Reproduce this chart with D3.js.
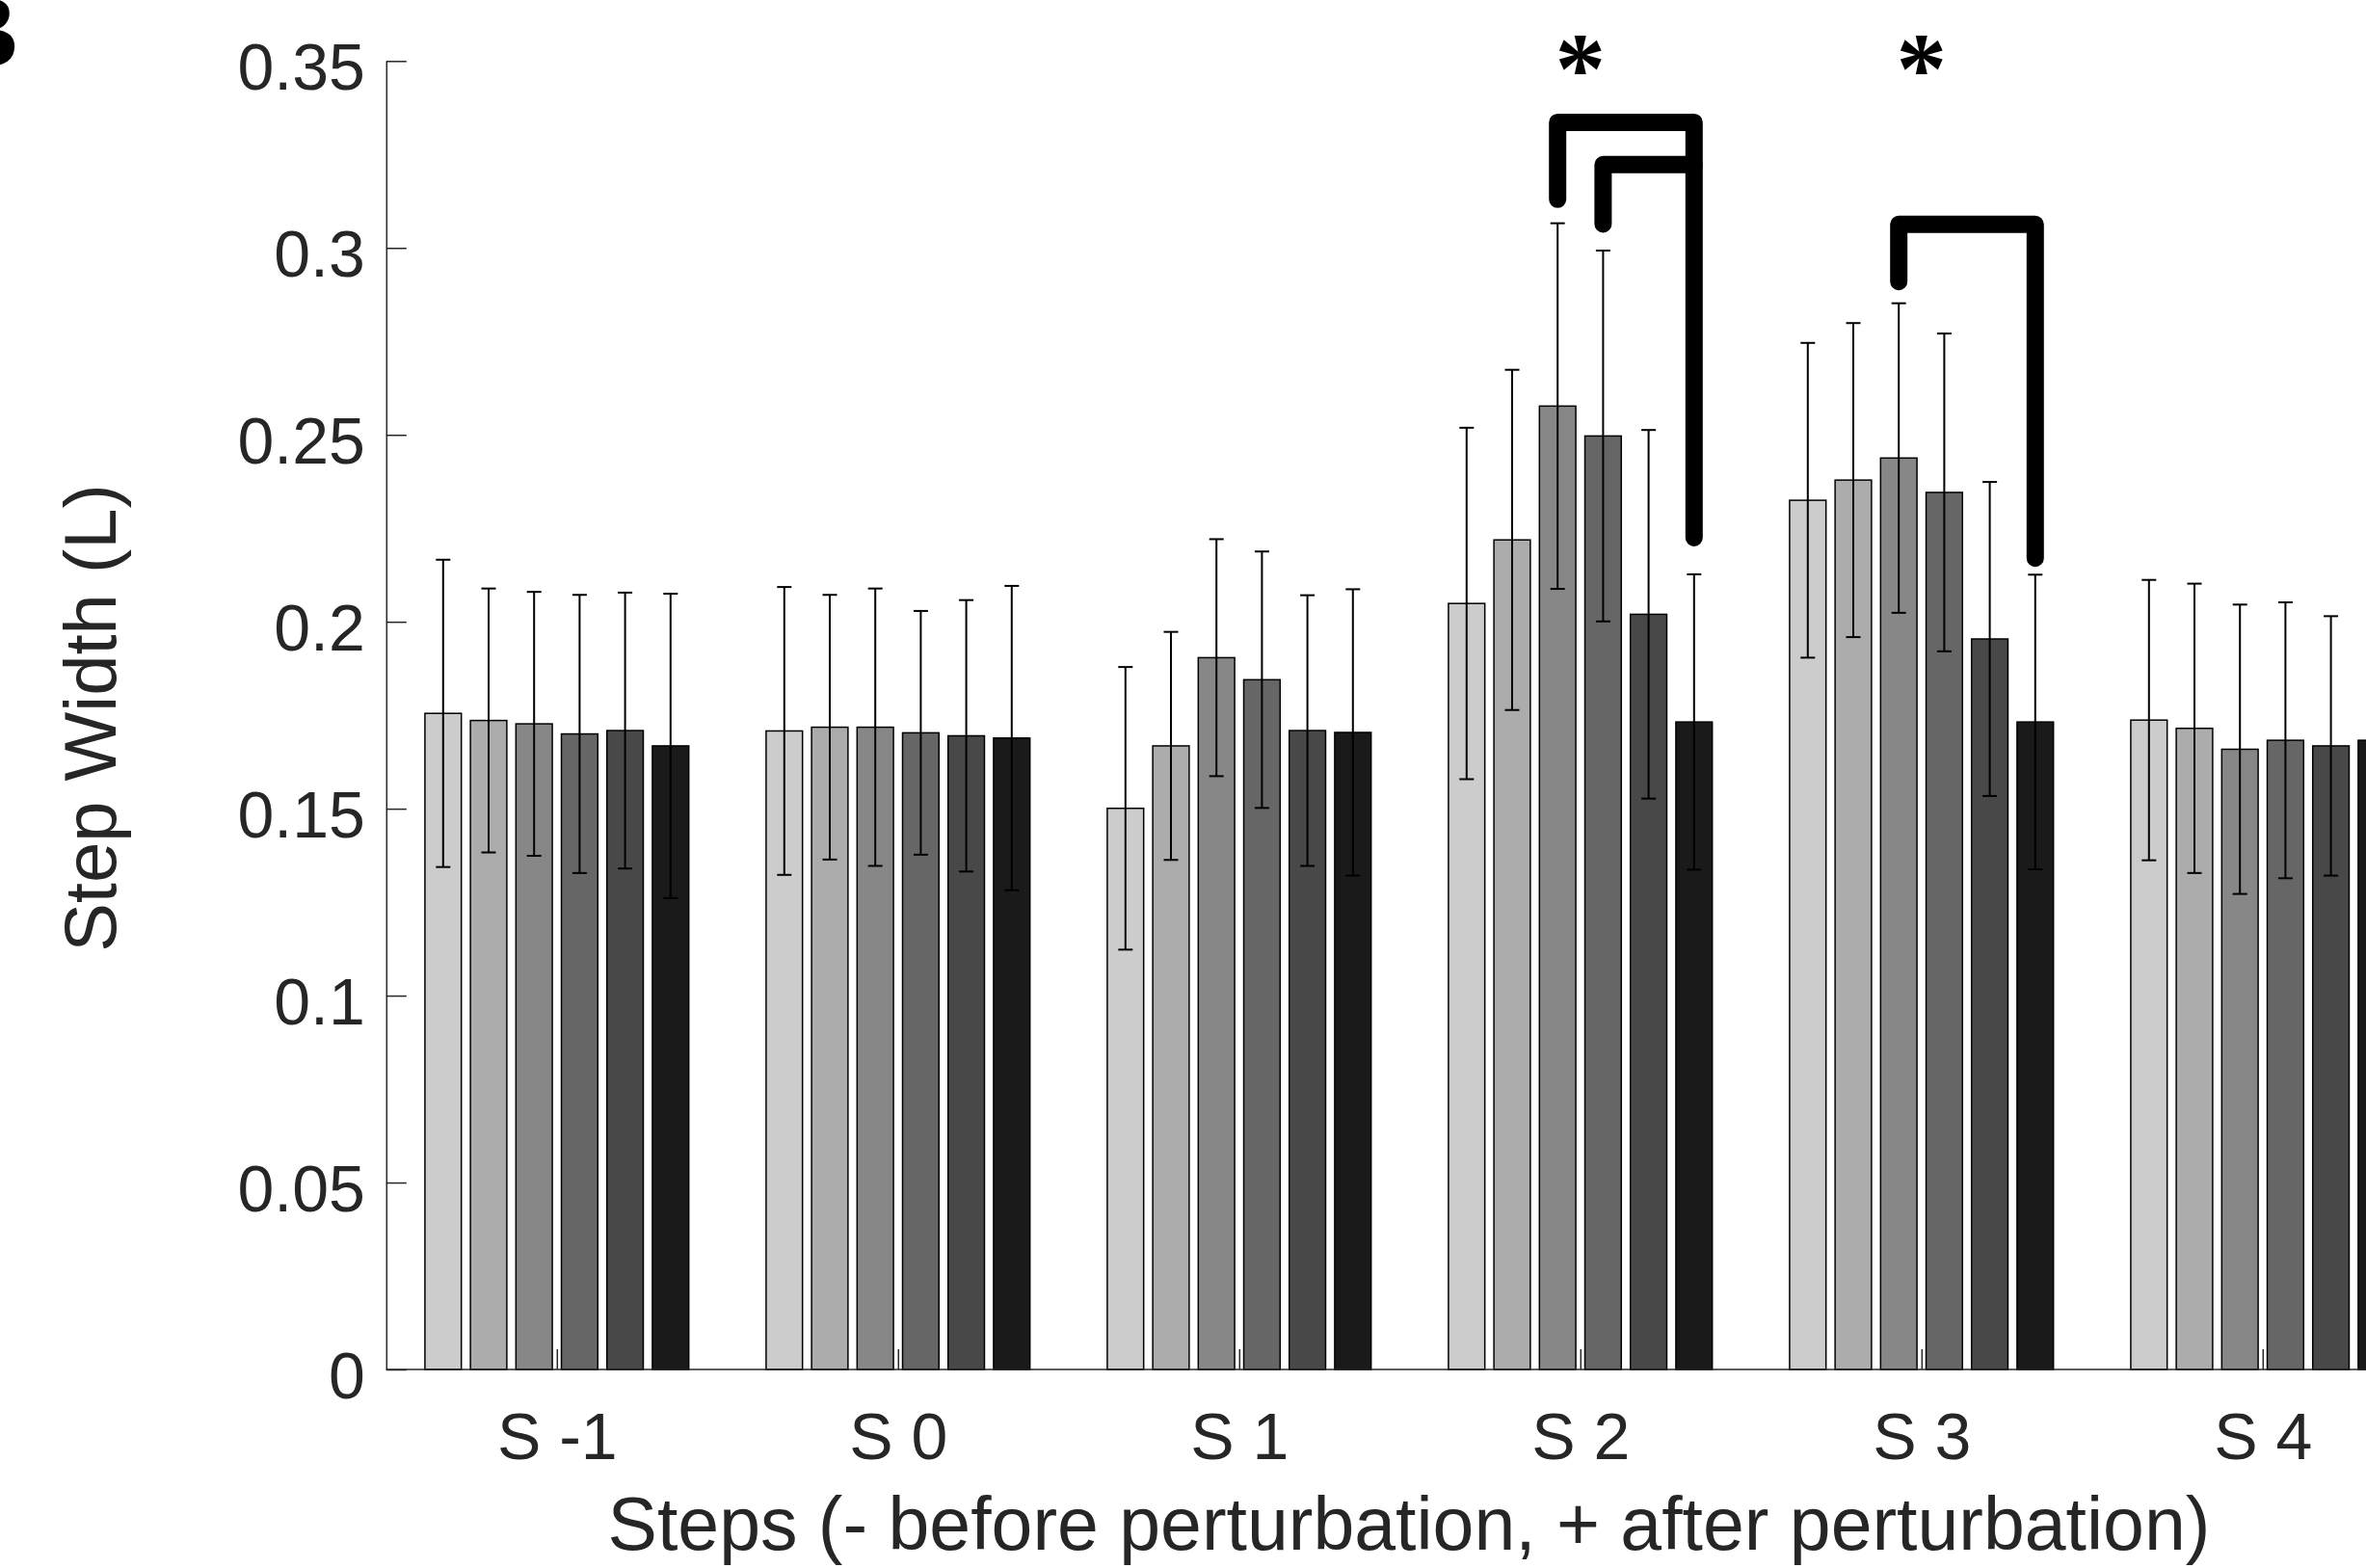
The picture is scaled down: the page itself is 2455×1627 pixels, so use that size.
<!DOCTYPE html>
<html>
<head>
<meta charset="utf-8">
<script src="https://cdn.jsdelivr.net/npm/d3@7"></script>
<style>
  html, body { margin: 0; padding: 0; background: #ffffff; }
  svg { display: block; }
</style>
</head>
<body>
<script>
// ---------------- DATA ----------------
const categories = ["S -1", "S 0", "S 1", "S 2", "S 3", "S 4"];
const series = ["Cond 1", "Cond 2", "Cond 3", "Cond 4", "Cond 5", "Cond 6"];
const seriesColors = ["#cccccc", "#acacac", "#878787", "#666666", "#484848", "#1a1a1a"];

// mean step width per category (rows) and series (columns)
const meanSm1 = [0.1755, 0.1736, 0.1727, 0.1700, 0.1709, 0.1668];
const meanS0  = [0.1708, 0.1718, 0.1718, 0.1703, 0.1695, 0.1689];
const meanS1  = [0.1501, 0.1668, 0.1904, 0.1845, 0.1709, 0.1704];
const meanS2  = [0.2049, 0.2219, 0.2577, 0.2497, 0.2020, 0.1732];
const meanS3  = [0.2325, 0.2379, 0.2438, 0.2346, 0.1954, 0.1732];
const meanS4  = [0.1737, 0.1715, 0.1659, 0.1683, 0.1668, 0.1683];

// standard deviations (error bar half-lengths)
const sdSm1 = [0.0411, 0.0353, 0.0353, 0.0372, 0.0369, 0.0407];
const sdS0  = [0.0385, 0.0354, 0.0371, 0.0326, 0.0363, 0.0407];
const sdS1  = [0.0378, 0.0305, 0.0317, 0.0343, 0.0362, 0.0383];
const sdS2  = [0.0470, 0.0455, 0.0489, 0.0496, 0.0493, 0.0395];
const sdS3  = [0.0421, 0.0420, 0.0414, 0.0425, 0.0420, 0.0394];
const sdS4  = [0.0375, 0.0387, 0.0387, 0.0369, 0.0347, 0.0350];

const yTicks = [0, 0.05, 0.1, 0.15, 0.2, 0.25, 0.3, 0.35];
const yTickLabels = ["0", "0.05", "0.1", "0.15", "0.2", "0.25", "0.3", "0.35"];

// significance brackets: category, from series idx, to series idx, top y, left end y, right end y (null = no right leg)
const brackets = [
  { cat: "S 2", from: 2, to: 5, top: 0.3336, leftEnd: 0.3130, rightEnd: 0.2225 },
  { cat: "S 2", from: 3, to: 5, top: 0.3223, leftEnd: 0.3064, rightEnd: null },
  { cat: "S 3", from: 2, to: 5, top: 0.3063, leftEnd: 0.2910, rightEnd: 0.2170 }
];
const starCats = ["S 2", "S 3"];
const starY = 0.3513;

const yLabel = "Step Width (L)";
const xLabel = "Steps (- before perturbation, + after perturbation)";
const panelLabel = "B";

// ---------------- LAYOUT ----------------
const W = 2455, H = 1627;
const axisColor = "#262626";
const fontSans = "'Liberation Sans', Arial, Helvetica, sans-serif";
const fontSerif = "'Liberation Serif', 'Times New Roman', serif";

const means = [meanSm1, meanS0, meanS1, meanS2, meanS3, meanS4];
const sds = [sdSm1, sdS0, sdS1, sdS2, sdS3, sdS4];

const svg = d3.select("body").append("svg")
  .attr("width", W).attr("height", H)
  .attr("viewBox", `0 0 ${W} ${H}`);

const y = d3.scaleLinear().domain([0, 0.35]).range([1421, 63.3]);
const xGroup = d3.scaleBand().domain(categories).range([400.8, 2524.8]).padding(0);
const gw = xGroup.bandwidth();
const xBar = d3.scaleBand().domain(d3.range(series.length))
  .range([-0.4 * gw, 0.4 * gw]).paddingInner(0.2).paddingOuter(0.1);

const barCenter = (cat, j) => xGroup(cat) + gw / 2 + xBar(j) + xBar.bandwidth() / 2;

const data = [];
categories.forEach((c, i) => {
  series.forEach((s, j) => {
    data.push({ cat: c, j: j, mean: means[i][j], sd: sds[i][j] });
  });
});

// bars
svg.append("g").selectAll("rect").data(data).join("rect")
  .attr("x", d => xGroup(d.cat) + gw / 2 + xBar(d.j))
  .attr("width", xBar.bandwidth())
  .attr("y", d => y(d.mean))
  .attr("height", d => y(0) - y(d.mean))
  .attr("fill", d => seriesColors[d.j])
  .attr("stroke", "#000")
  .attr("stroke-width", 1.5);

// error bars
const capHalf = 7.5;
const eg = svg.append("g").attr("stroke", "#000").attr("stroke-width", 2).attr("fill", "none");
data.forEach(d => {
  const cx = barCenter(d.cat, d.j);
  const y1 = y(d.mean + d.sd), y2 = y(d.mean - d.sd);
  eg.append("line").attr("x1", cx).attr("x2", cx).attr("y1", y1).attr("y2", y2);
  eg.append("line").attr("x1", cx - capHalf).attr("x2", cx + capHalf).attr("y1", y1).attr("y2", y1);
  eg.append("line").attr("x1", cx - capHalf).attr("x2", cx + capHalf).attr("y1", y2).attr("y2", y2);
});

// axes
const yAxis = d3.axisLeft(y).tickValues(yTicks)
  .tickFormat((d, i) => yTickLabels[i])
  .tickSizeInner(-21).tickSizeOuter(0).tickPadding(22);
const gy = svg.append("g").attr("transform", "translate(400.8,0)").call(yAxis);
gy.select(".domain").attr("stroke", axisColor).attr("stroke-width", 1.5);
gy.selectAll(".tick line").attr("stroke", axisColor).attr("stroke-width", 1.5);
gy.selectAll(".tick text")
  .attr("fill", axisColor)
  .attr("font-family", fontSans)
  .attr("font-size", 68)
  .attr("dy", "0.43em");

const xAxisScale = d3.scalePoint().domain(categories)
  .range([xGroup(categories[0]) + gw / 2, xGroup(categories[categories.length - 1]) + gw / 2]);
const xAxis = d3.axisBottom(xAxisScale).tickSizeInner(-21).tickSizeOuter(0).tickPadding(44.7);
const gx = svg.append("g").attr("transform", "translate(0,1421)").call(xAxis);
gx.select(".domain").remove();
gx.append("line").attr("x1", 400.8).attr("x2", 2524.8).attr("y1", 0).attr("y2", 0)
  .attr("stroke", axisColor).attr("stroke-width", 1.5);
gx.selectAll(".tick line").attr("stroke", axisColor).attr("stroke-width", 1.5);
gx.selectAll(".tick text")
  .attr("fill", axisColor)
  .attr("font-family", fontSans)
  .attr("font-size", 68);

// axis labels
svg.append("text")
  .attr("transform", "translate(120,745) rotate(-90)")
  .attr("text-anchor", "middle")
  .attr("font-family", fontSans)
  .attr("font-size", 76)
  .attr("fill", axisColor)
  .text(yLabel);

svg.append("text")
  .attr("x", 1462).attr("y", 1608)
  .attr("text-anchor", "middle")
  .attr("font-family", fontSans)
  .attr("font-size", 77)
  .attr("fill", axisColor)
  .text(xLabel);

// significance brackets
const line = d3.line();
brackets.forEach(b => {
  const xl = barCenter(b.cat, b.from), xr = barCenter(b.cat, b.to);
  const pts = [[xl, y(b.leftEnd)], [xl, y(b.top)], [xr, y(b.top)]];
  if (b.rightEnd !== null) pts.push([xr, y(b.rightEnd)]);
  svg.append("path").attr("d", line(pts))
    .attr("fill", "none").attr("stroke", "#000")
    .attr("stroke-width", 18)
    .attr("stroke-linecap", "round").attr("stroke-linejoin", "round");
});

// asterisks
svg.append("g").selectAll("text").data(starCats).join("text")
  .attr("x", d => xGroup(d) + gw / 2)
  .attr("y", y(starY) + 49)
  .attr("text-anchor", "middle")
  .attr("font-family", fontSerif)
  .attr("font-weight", "bold")
  .attr("font-size", 105)
  .attr("fill", "#000")
  .text("*");

// panel label (partially cropped at left, as in the reference)
svg.append("text")
  .attr("x", 18).attr("y", 69)
  .attr("text-anchor", "end")
  .attr("font-family", fontSerif)
  .attr("font-weight", "bold")
  .attr("font-size", 107)
  .attr("fill", "#000")
  .text(panelLabel);
</script>
</body>
</html>
